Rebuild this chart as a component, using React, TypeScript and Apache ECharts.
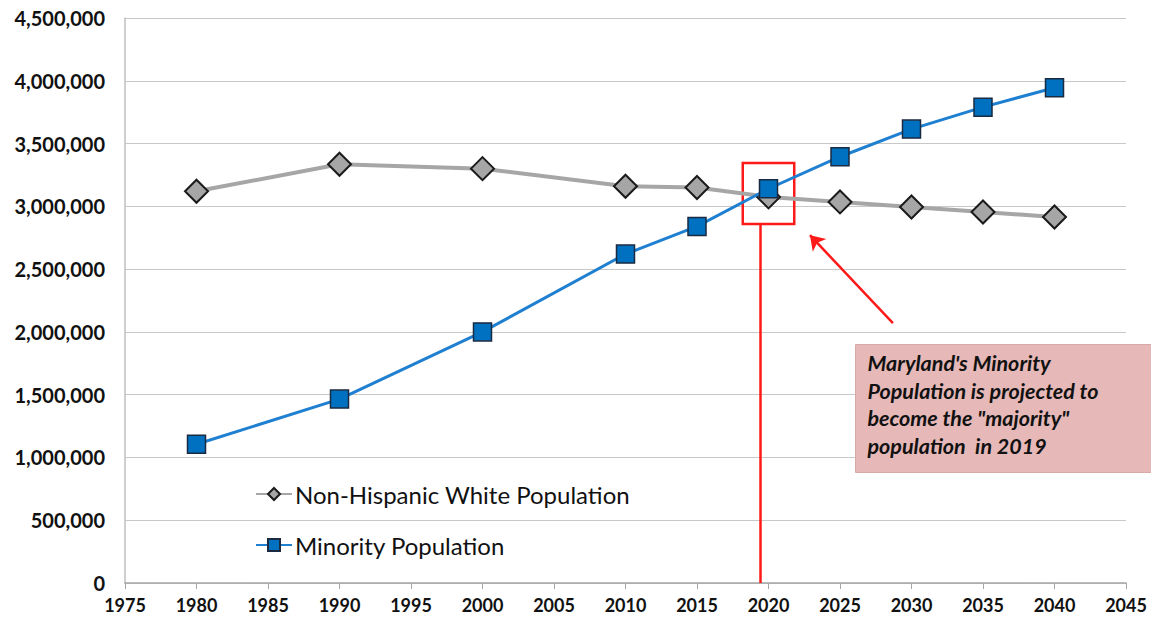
import React, { useEffect, useRef } from "react";
import * as echarts from "echarts";

const years = [1980, 1990, 2000, 2010, 2015, 2020, 2025, 2030, 2035, 2040];
const whitePop = [3120000, 3335000, 3300000, 3160000, 3150000, 3075000, 3035000, 2995000, 2955000, 2915000];
const minorityPop = [1105000, 1465000, 2000000, 2620000, 2840000, 3140000, 3395000, 3615000, 3790000, 3945000];
const seriesNames = ["Non-Hispanic White Population", "Minority Population"];
const noteLines = [
  "Maryland's Minority",
  "Population is projected to",
  "become the \"majority\"",
  "population  in 2019",
];

const FONT = "Lato, 'Open Sans', sans-serif";

export default function App() {
  const ref = useRef<HTMLDivElement>(null);

  useEffect(() => {
    if (!ref.current) return;
    const chart = echarts.init(ref.current, undefined, { renderer: "svg" });
    const fmt = (v: number) => v.toLocaleString("en-US");

    chart.setOption({
      animation: false,
      backgroundColor: "#ffffff",
      textStyle: { fontFamily: FONT },
      grid: { left: 125, right: 25, top: 18, bottom: 40, containLabel: false },
      legend: {
        orient: "vertical",
        left: 250,
        top: 477,
        itemGap: 27,
        itemWidth: 36,
        itemHeight: 15,
        data: seriesNames,
        textStyle: { fontFamily: FONT, fontSize: 24, color: "#111", padding: [0, 0, 0, -2] },
      },
      xAxis: {
        type: "value",
        min: 1975,
        max: 2045,
        interval: 5,
        axisLine: { show: true, lineStyle: { color: "#a6a6a6", width: 1.5 } },
        axisTick: { show: true, length: 6, lineStyle: { color: "#a6a6a6" } },
        splitLine: { show: false },
        axisLabel: {
          formatter: (v: number) => String(v),
          fontFamily: FONT,
          fontSize: 18,
          fontWeight: "bold",
          color: "#111",
          margin: 13,
        },
      },
      yAxis: {
        type: "value",
        min: 0,
        max: 4500000,
        interval: 500000,
        axisLine: { show: true, lineStyle: { color: "#bfbfbf", width: 1.5 } },
        axisTick: { show: false },
        splitLine: { show: true, lineStyle: { color: "#c8c8c8", width: 1.2 } },
        axisLabel: {
          formatter: fmt,
          fontFamily: FONT,
          fontSize: 20,
          fontWeight: "bold",
          color: "#111",
          margin: 20,
        },
      },
      series: [
        {
          name: seriesNames[0],
          type: "line",
          data: years.map((y, i) => [y, whitePop[i]]),
          symbol: "diamond",
          symbolSize: 23,
          lineStyle: { color: "#a6a6a6", width: 4 },
          itemStyle: { color: "#a6a6a6", borderColor: "#1a1a1a", borderWidth: 2 },
          z: 2,
        },
        {
          name: seriesNames[1],
          type: "line",
          data: years.map((y, i) => [y, minorityPop[i]]),
          symbol: "rect",
          symbolSize: 18,
          lineStyle: { color: "#1f7fd0", width: 3 },
          itemStyle: { color: "#0070c0", borderColor: "#1a2a40", borderWidth: 1.5 },
          z: 3,
          markArea: {
            silent: true,
            itemStyle: { color: "rgba(0,0,0,0)", borderColor: "#ff1a1a", borderWidth: 2.5 },
            data: [[{ coord: [2018.2, 3345000] }, { coord: [2021.8, 2860000] }]],
          },
          markLine: {
            silent: true,
            label: { show: false },
            data: [
              [
                { coord: [2019.4, 2860000], symbol: "none" },
                { coord: [2019.4, 0], symbol: "none" },
              ],
              [
                { coord: [2028.7, 2070000], symbol: "none" },
                { coord: [2022.9, 2770000], symbol: "arrow", symbolSize: 14 },
              ],
            ],
            lineStyle: { color: "#ff1a1a", width: 2.5, type: "solid" },
            symbol: ["none", "none"],
          },
        },
      ],
      graphic: [
        {
          type: "group",
          left: 855,
          top: 344,
          z: 100,
          children: [
            {
              type: "rect",
              z: 100,
              shape: { x: 0, y: 0, width: 296, height: 128 },
              style: { fill: "#e6b9b8", stroke: "#d9a9a8", lineWidth: 1 },
            },
            {
              type: "text",
              z: 101,
              x: 12,
              y: 5,
              style: {
                text: noteLines.join("\n"),
                fontFamily: FONT,
                fontSize: 21.5,
                fontStyle: "italic",
                fontWeight: "bold",
                lineHeight: 27.5,
                fill: "#111",
              },
            },
          ],
        },
      ],
    });

    return () => chart.dispose();
  }, []);

  return <div ref={ref} style={{ width: 1151, height: 623, position: "absolute", left: 0, top: 0 }} />;
}
